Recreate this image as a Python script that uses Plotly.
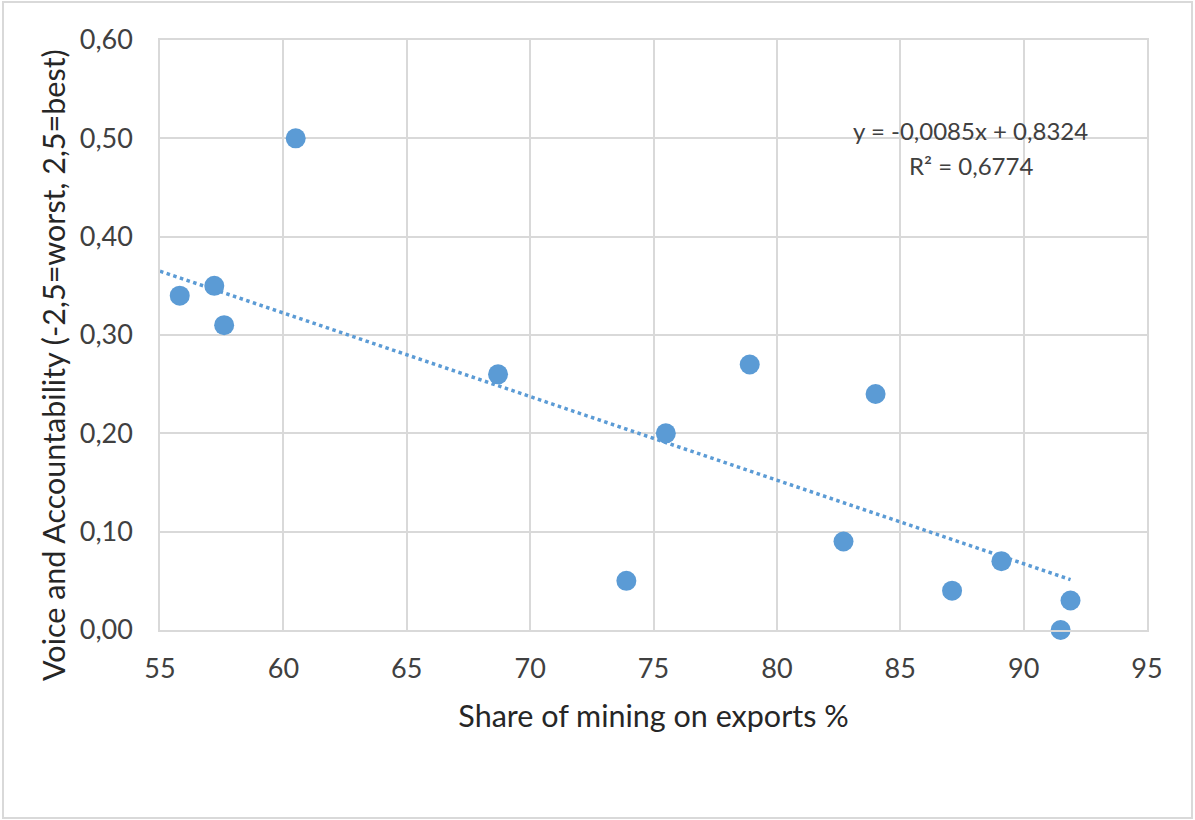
import plotly.graph_objects as go

# Share of mining on exports (%) and Voice and Accountability score
mining_share = [55.8, 57.2, 57.6, 60.5, 68.7, 73.9, 75.5, 78.9, 82.7, 84.0, 87.1, 89.1, 91.5, 91.9]
voice_acc = [0.34, 0.35, 0.31, 0.50, 0.26, 0.05, 0.20, 0.27, 0.09, 0.24, 0.04, 0.07, 0.00, 0.03]

# Linear trendline coefficients
slope = -0.0085
intercept = 0.8324
r_squared = 0.6774
trend_x = [55, max(mining_share)]
trend_y = [slope * v + intercept for v in trend_x]

x_ticks = [55, 60, 65, 70, 75, 80, 85, 90, 95]
y_ticks = [0.0, 0.1, 0.2, 0.3, 0.4, 0.5, 0.6]

W, H = 1195, 820
L, R, T, B = 160, 48, 40, 190
pw, ph = W - L - R, H - T - B

def px_x(p):
    return (p - L) / pw

def px_y(p):
    return (H - B - p) / ph

blue = "#5B9BD5"
font_family = "Lato, Open Sans, sans-serif"

fig = go.Figure()
fig.add_trace(go.Scatter(
    x=trend_x, y=trend_y, mode="lines",
    line=dict(color=blue, width=3.5, dash="dot"),
    hoverinfo="skip", showlegend=False,
))
fig.add_trace(go.Scatter(
    x=mining_share, y=voice_acc, mode="markers",
    marker=dict(color=blue, size=20, line=dict(width=0)),
    cliponaxis=False, showlegend=False,
))

fig.add_annotation(
    x=px_x(970), y=px_y(130), xref="paper", yref="paper",
    xanchor="center", yanchor="middle",
    text=f"y = {slope:.4f}x + {intercept:.4f}".replace(".", ","), showarrow=False,
    font=dict(family=font_family, size=24, color="#404040"),
)
fig.add_annotation(
    x=px_x(971), y=px_y(165), xref="paper", yref="paper",
    xanchor="center", yanchor="middle",
    text=f"R² = {r_squared:.4f}".replace(".", ","), showarrow=False,
    font=dict(family=font_family, size=24, color="#404040"),
)

# Vertical axis title
fig.add_annotation(
    x=px_x(53), y=px_y(365), xref="paper", yref="paper",
    xanchor="center", yanchor="middle", textangle=-90,
    text="Voice and Accountability (-2,5=worst, 2,5=best)", showarrow=False,
    font=dict(family=font_family, size=30.5, color="#262626"),
)

# Outer chart frame
fig.add_shape(
    type="rect", xref="paper", yref="paper",
    x0=px_x(3), x1=px_x(1192), y0=px_y(818), y1=px_y(2),
    line=dict(color="#d9d9d9", width=2), layer="below",
)

fig.update_layout(
    width=W, height=H,
    margin=dict(l=L, r=R, t=T, b=B),
    paper_bgcolor="white", plot_bgcolor="white",
    separators=", ",
    font=dict(family=font_family, size=27, color="#404040"),
    xaxis=dict(
        range=[55, 95], tickvals=x_ticks, ticktext=[str(v) for v in x_ticks],
        showgrid=True, gridcolor="#d9d9d9", gridwidth=1.5,
        zeroline=False, showline=True, linecolor="#d9d9d9", linewidth=1.5, mirror=True,
        ticks="", ticklabelstandoff=14,
        title=dict(text="Share of mining on exports %", standoff=22,
                   font=dict(family=font_family, size=30.5, color="#262626")),
    ),
    yaxis=dict(
        range=[0, 0.6], tickvals=y_ticks, tickformat=".2f",
        showgrid=True, gridcolor="#d9d9d9", gridwidth=1.5,
        zeroline=False, showline=True, linecolor="#d9d9d9", linewidth=1.5, mirror=True,
        ticks="", ticklabelstandoff=20,
    ),
)

fig.write_html("out.html")
